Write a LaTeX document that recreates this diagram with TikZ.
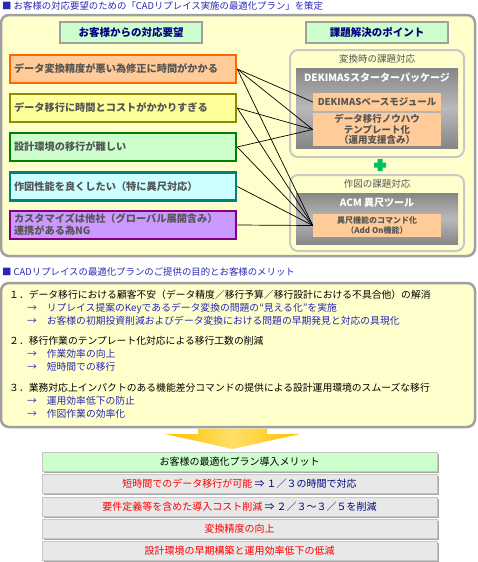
\documentclass[tikz,border=0pt]{standalone}
\usepackage{xcolor}
\usepackage{fontspec}
\setmainfont{Noto Sans CJK JP}
\usepackage{tikz}
\usetikzlibrary{positioning,shadows}

\definecolor{paleyellow}{HTML}{FFFFCC}
\definecolor{framegray}{HTML}{A0A0A0}
\definecolor{groupgray}{HTML}{C8C8C8}
\definecolor{palegreen}{HTML}{CCFFCC}
\definecolor{navy}{HTML}{000080}
\definecolor{titleblue}{HTML}{2828B4}
\definecolor{needtext}{HTML}{555555}
\definecolor{peach}{HTML}{FFCC99}
\definecolor{orangeline}{HTML}{FF6600}
\definecolor{lemon}{HTML}{FFFF99}
\definecolor{oliveline}{HTML}{8C8C00}
\definecolor{greenline}{HTML}{008000}
\definecolor{palecyan}{HTML}{CCFFFF}
\definecolor{tealline}{HTML}{008080}
\definecolor{lilac}{HTML}{CC99FF}
\definecolor{purpleline}{HTML}{800080}
\definecolor{rowgray}{HTML}{E8E8E8}
\definecolor{plusgreen}{HTML}{00C060}
\definecolor{gold}{HTML}{FFCC00}

\begin{document}
\begin{tikzpicture}[x=1pt, y=-1pt,
    every node/.style={inner sep=0pt},
    frame/.style={draw=framegray, line width=2.5pt, rounded corners=8pt, fill=paleyellow},
    group/.style={draw=groupgray, line width=2pt, rounded corners=8pt, fill=paleyellow},
    head/.style={draw=framegray, line width=1.2pt, fill=palegreen, minimum width=142pt, minimum height=21pt, font=\fontsize{10.5}{12}\selectfont\bfseries, text=navy},
    need/.style={line width=2.5pt, minimum width=226pt, minimum height=28pt, text width=218pt, align=left, font=\fontsize{10.2}{12}\selectfont\bfseries, text=needtext},
    graybox/.style={minimum width=162pt, top color=gray!95, bottom color=gray!95, middle color=gray!55},
    tool/.style={fill=peach, minimum width=128pt, align=center, text=needtext, font=\fontsize{9.5}{11}\selectfont\bfseries},
    title/.style={anchor=west, text=titleblue, font=\fontsize{9.4}{11}\selectfont},
    point/.style={anchor=west, font=\fontsize{9.8}{11}\selectfont},
    merit/.style={anchor=west, text=titleblue, font=\fontsize{9.8}{11}\selectfont},
    row/.style={draw=gray!45, line width=0.8pt, fill=rowgray, minimum width=395pt, minimum height=19pt, font=\fontsize{10}{12}\selectfont,
      drop shadow={shadow xshift=1.5pt, shadow yshift=-1.5pt, fill=gray!70, opacity=1}},
    link/.style={draw=black, line width=0.7pt}
]
    \useasboundingbox (0,0) rectangle (478,562);

    % upper part
    \node[title] (title1) at (2,6) {■ お客様の対応要望のための「CADリプレイス実施の最適化プラン」を策定};
    \draw[frame] (1,15) rectangle (475,256);

    \node[head] (headneed) at (131,32.5) {お客様からの対応要望};
    \node[head] (headpoint) at (377,32.5) {課題解決のポイント};

    \node[need, draw=orangeline, fill=peach] (need1) at (123,69) {データ変換精度が悪い為修正に時間がかかる};
    \node[need, draw=oliveline, fill=lemon] (need2) at (123,108) {データ移行に時間とコストがかかりすぎる};
    \node[need, draw=greenline, fill=palegreen] (need3) at (123,147) {設計環境の移行が難しい};
    \node[need, draw=tealline, fill=palecyan] (need4) at (123,186.5) {作図性能を良くしたい（特に異尺対応）};
    \node[need, draw=purpleline, fill=lilac] (need5) at (123,225) {カスタマイズは他社（グローバル展開含み）\\連携がある為NG};

    % conversion group
    \draw[group] (290,50) rectangle (464,157);
    \node[text=needtext, font=\fontsize{9.5}{11}\selectfont] (convlabel) at (377,59) {変換時の課題対応};
    \node[graybox, minimum height=80pt] (dekimas) at (377,108) {};
    \node[text=white, font=\fontsize{10}{12}\selectfont\bfseries] (dekimastitle) at (377,78) {DEKIMASスターターパッケージ};
    \node[tool, minimum height=18pt] (base) at (377,102) {DEKIMASベースモジュール};
    \node[tool, minimum height=33pt, font=\fontsize{9.5}{10.5}\selectfont\bfseries] (tmpl) at (377,129.5) {データ移行ノウハウ\\テンプレート化\\（運用支援含み）};

    \fill[plusgreen] (377.5,159) rectangle (382.5,171) (374,162.5) rectangle (386,167.5);

    % drawing group
    \draw[group] (290,175) rectangle (464,251);
    \node[text=needtext, font=\fontsize{9.5}{11}\selectfont] (drawlabel) at (377,184) {作図の課題対応};
    \node[graybox, minimum height=51pt] (acm) at (377,218.5) {};
    \node[text=white, font=\fontsize{10}{12}\selectfont\bfseries] (acmtitle) at (377,203) {ACM 異尺ツール};
    \node[tool, minimum height=23pt, font=\fontsize{8}{10.5}\selectfont\bfseries] (acmcmd) at (377,225.5) {異尺機能のコマンド化\\（Add On機能）};

    \draw[link] (need1.east) -- (base.west);
    \draw[link] (need1.east) -- (tmpl.west);
    \draw[link] (need1.east) -- (acmcmd.west);
    \draw[link] (need2.east) -- (tmpl.west);
    \draw[link] (need2.east) -- (acmcmd.west);
    \draw[link] (need3.east) -- (tmpl.west);
    \draw[link] (need3.east) -- (acmcmd.west);
    \draw[link] (need4.east) -- (acmcmd.west);
    \draw[link] (need5.east) -- (acmcmd.west);

    % purpose and merits
    \node[title] (title2) at (2,272) {■ CADリプレイスの最適化プランのご提供の目的とお客様のメリット};
    \draw[frame] (1,283) rectangle (475,427);

    \node[point] (p1) at (9,295) {１．データ移行における顧客不安（データ精度／移行予算／移行設計における不具合他）の解消};
    \node[merit] (p1a) at (27,308) {→　リプレイス提案のKeyであるデータ変換の問題の“見える化”を実施};
    \node[merit] (p1b) at (27,320.5) {→　お客様の初期投資削減およびデータ変換における問題の早期発見と対応の具現化};
    \node[point] (p2) at (9,341) {２．移行作業のテンプレート化対応による移行工数の削減};
    \node[merit] (p2a) at (27,354) {→　作業効率の向上};
    \node[merit] (p2b) at (27,367) {→　短時間での移行};
    \node[point] (p3) at (9,388) {３．業務対応上インパクトのある機能差分コマンドの提供による設計運用環境のスムーズな移行};
    \node[merit] (p3a) at (27,401) {→　運用効率低下の防止};
    \node[merit] (p3b) at (27,414) {→　作図作業の効率化};

    \shade[left color=gold!85!orange, right color=gold!85!orange, middle color=gold!60]
      (198,428.5) -- (267,428.5) -- (267,434) -- (300,434) -- (232.5,449) -- (165,434) -- (198,434) -- cycle;

    \node[row, fill=palegreen] (meritshead) at (239.5,461.5) {お客様の最適化プラン導入メリット};
    \node[row] (merit1) at (239.5,483.5) {\textcolor{red}{短時間でのデータ移行が可能} \textcolor{navy}{⇒ １／３の時間で対応}};
    \node[row] (merit2) at (239.5,506.5) {\textcolor{red}{要件定義等を含めた導入コスト削減} \textcolor{navy}{⇒ ２／３～３／５を削減}};
    \node[row, text=red] (merit3) at (239.5,528.5) {変換精度の向上};
    \node[row, text=red] (merit4) at (239.5,550.5) {設計環境の早期構築と運用効率低下の低減};
\end{tikzpicture}
\end{document}
